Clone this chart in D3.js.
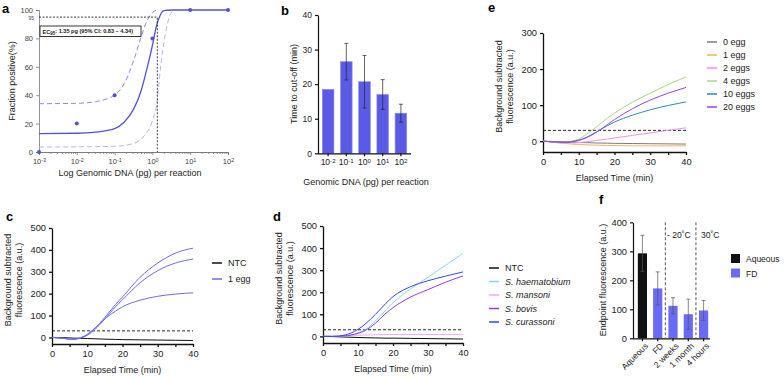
<!DOCTYPE html>
<html><head><meta charset="utf-8">
<script src="https://cdn.jsdelivr.net/npm/d3@7"></script>
<style>
body{margin:0;background:#fff;}
svg{font-family:"Liberation Sans",Arial,sans-serif;}
</style></head><body>
<svg id="fig" width="784" height="378"></svg>
<script>
// ---- data ----
// panel a
var aDoseX = [0.001, 0.01, 0.1, 1, 10, 100];
var aDoseY = [0, 20, 40, 80, 100, 100];
var aFitX = [0.001, 0.01, 0.0316, 0.1, 0.178, 0.316, 0.501, 0.708, 1, 1.259, 1.585, 1.995, 3.16, 10, 100];
var aFitY = [13, 13.2, 14, 16.5, 21, 30, 43, 58, 75, 88, 96, 99.5, 100, 100, 100];
var aUpX = [0.001, 0.01, 0.0316, 0.1, 0.178, 0.316, 0.501, 0.708, 1, 1.26];
var aUpY = [34, 34.3, 35.5, 40, 48, 64, 81, 92, 98, 100];
var aLowX = [0.001, 0.1, 0.316, 0.631, 1, 1.35, 1.62, 2.2, 2.8, 3.6];
var aLowY = [3.5, 4, 6, 12, 22, 37, 58, 83, 95, 100];
var aEC = 1.35, aECLevel = 95;

// panel b
var bDose = ["-2", "-1", "0", "1", "2"];
var bMean = [18.5, 26.5, 20.7, 17, 11.6];
var bErr = [0, 5.3, 7.6, 4.3, 2.6];

// panels c, d, e share one time grid (min)
var tGrid = [0, 3, 6, 8, 10, 12, 15, 18, 20, 25, 30, 35, 40];
var cNames = ["NTC", "1 egg", "1 egg", "1 egg"];
var cVals = [
  [0, -1, -3, -4, -5, -6, -8, -9, -10, -11, -12, -13, -14],
  [0, -4, -8, -3, 12, 38, 92, 150, 185, 275, 340, 385, 408],
  [0, -4, -8, -3, 10, 34, 84, 140, 172, 250, 305, 340, 358],
  [0, -4, -8, -2, 14, 40, 85, 120, 140, 170, 188, 198, 204]
];
var dNames = ["NTC", "S. haematobium", "S. mansoni", "S. bovis", "S. curassoni"];
var dVals = [
  [0, -1, -3, -4, -5, -6, -7, -8, -8, -9, -10, -11, -12],
  [0, 0, 2, 6, 15, 30, 70, 120, 152, 215, 268, 322, 376],
  [0, 1, 3, 4, 5, 6, 7, 8, 8, 8, 8, 8, 8],
  [0, 0, 2, 6, 14, 26, 60, 105, 130, 178, 212, 245, 274],
  [0, 0, 5, 15, 32, 55, 100, 150, 180, 225, 252, 273, 292]
];
var eNames = ["0 egg", "1 egg", "2 eggs", "4 eggs", "10 eggs", "20 eggs"];
var eVals = [
  [0, -1, -2, -3, -3.5, -4, -5, -5.5, -6, -6.5, -7, -7.5, -8],
  [0, -3, -6, -8, -9, -10, -11, -12, -12, -13, -13, -13, -13],
  [0, -3, -5, -5, -4, -2, 2, 6, 9, 16, 23, 30, 37],
  [0, -2, -3, 0, 6, 18, 40, 64, 78, 108, 133, 157, 178],
  [0, -2, -3, -1, 3, 10, 26, 43, 53, 72, 87, 99, 109],
  [0, -2, -3, -2, 2, 9, 25, 46, 60, 90, 114, 133, 149]
];
var cutoff = 30;

// panel f
var fConds = ["Aqueous", "FD", "2 weeks", "1 month", "4 hours"];
var fGroup = ["Aqueous", "FD", "FD", "FD", "FD"];
var fMean = [293, 172, 112, 83, 96];
var fErr = [62, 57, 28, 52, 34];

// ---- drawing ----
var svg = d3.select("#fig");

function panelLabel(t, x, y) {
  svg.append("text").attr("x", x).attr("y", y).attr("font-size", 13)
    .attr("font-weight", "bold").text(t);
}
function sup(sel, base, exp) {
  sel.text(null);
  sel.append("tspan").text(base);
  sel.append("tspan").attr("dy", "-0.45em").attr("font-size", "0.72em").text(exp);
}
function styleAxis(g, w, col, fs) {
  g.selectAll("path.domain").attr("stroke", col).attr("stroke-width", w);
  g.selectAll(".tick line").attr("stroke", col).attr("stroke-width", w);
  g.selectAll(".tick text").attr("fill", "#222").attr("font-size", fs || 9.3)
    .attr("font-family", "Liberation Sans, Arial, sans-serif");
}
function yTitle(lines, x, y) {
  var t = svg.append("text").attr("transform", "translate(" + x + "," + y + ") rotate(-90)")
    .attr("text-anchor", "middle").attr("font-size", 9).attr("fill", "#222");
  lines.forEach(function (l, i) {
    t.append("tspan").attr("x", 0).attr("dy", i ? "1.2em" : 0).text(l);
  });
}
function xTitle(s, x, y) {
  svg.append("text").attr("x", x).attr("y", y).attr("text-anchor", "middle")
    .attr("font-size", 9).attr("fill", "#222").text(s);
}

// ===== panel a =====
(function () {
  var x = d3.scaleLog().domain([0.001, 100]).range([39, 228]);
  var y = d3.scaleLinear().domain([0, 100]).range([152, 10]);
  var g = svg.append("g");
  var minor = [];
  for (var e = -3; e < 2; e++) for (var m = 2; m < 10; m++) minor.push(m * Math.pow(10, e));
  g.append("g").attr("transform", "translate(0,152)")
    .call(d3.axisBottom(x).tickValues(minor).tickSize(2).tickFormat(""))
    .call(function (s) { styleAxis(s, 0.8, "#777"); });
  var xa = g.append("g").attr("transform", "translate(0,152)")
    .call(d3.axisBottom(x).tickValues([0.001, 0.01, 0.1, 1, 10, 100]).tickSize(3).tickPadding(4))
    .call(function (s) { styleAxis(s, 0.8, "#777", 7.5); });
  xa.selectAll(".tick text").each(function (d) {
    sup(d3.select(this), "10", String(Math.round(Math.log10(d))));
  }).attr("fill", "#444");
  var ya = g.append("g").attr("transform", "translate(39,0)")
    .call(d3.axisLeft(y).tickValues([0, 20, 40, 60, 80, 100]).tickSize(3))
    .call(function (s) { styleAxis(s, 0.8, "#777", 7.5); });
  ya.selectAll(".tick text").attr("fill", "#444");
  g.append("text").attr("x", 34).attr("y", y(aECLevel) + 2.6).attr("text-anchor", "end")
    .attr("font-size", 5).attr("fill", "#444").text(aECLevel);

  var line = d3.line().x(function (d) { return x(d[0]); }).y(function (d) { return y(d[1]); })
    .curve(d3.curveMonotoneX);
  g.append("path").attr("d", line(d3.zip(aLowX, aLowY))).attr("fill", "none")
    .attr("stroke", "#b7b7f2").attr("stroke-width", 1).attr("stroke-dasharray", "5,3");
  g.append("path").attr("d", line(d3.zip(aUpX, aUpY))).attr("fill", "none")
    .attr("stroke", "#8b8be6").attr("stroke-width", 1).attr("stroke-dasharray", "5,3");
  g.append("path").attr("d", line(d3.zip(aFitX, aFitY))).attr("fill", "none")
    .attr("stroke", "#5252dc").attr("stroke-width", 1.3);
  g.append("path").attr("d", "M" + x(0.001) + "," + y(aECLevel) + "H" + x(aEC) + "V" + y(0))
    .attr("fill", "none").attr("stroke", "#111").attr("stroke-width", 0.8)
    .attr("stroke-dasharray", "2,1.5");
  g.selectAll("circle").data(d3.zip(aDoseX, aDoseY)).enter().append("circle")
    .attr("cx", function (d) { return x(d[0]); }).attr("cy", function (d) { return y(d[1]); })
    .attr("r", 2).attr("fill", "#4f4fe0");
  g.append("rect").attr("x", 40).attr("y", 26).attr("width", 101).attr("height", 10.5)
    .attr("fill", "#fff").attr("stroke", "#222").attr("stroke-width", 0.9);
  var t = g.append("text").attr("x", 42.5).attr("y", 33.5).attr("font-size", 5.6)
    .attr("font-weight", "bold").attr("fill", "#222");
  t.append("tspan").text("EC");
  t.append("tspan").attr("dy", "0.35em").attr("font-size", "0.8em").text("95");
  t.append("tspan").attr("dy", "-0.35em").text(": " + aEC + " pg (95% CI: 0.83 \u2013 4.34)");
  yTitle(["Fraction positive(%)"], 15, 81);
  xTitle("Log Genomic DNA (pg) per reaction", 130, 176);
  panelLabel("a", 2, 13);
})();

// ===== panel b =====
(function () {
  var x = d3.scaleBand().domain(bDose).range([319, 410]).paddingInner(0.36).paddingOuter(0.18);
  var y = d3.scaleLinear().domain([0, 40]).range([153.3, 15]);
  var g = svg.append("g");
  g.selectAll("rect").data(bMean).enter().append("rect")
    .attr("x", function (d, i) { return x(bDose[i]); }).attr("width", x.bandwidth())
    .attr("y", function (d) { return y(d); }).attr("height", function (d) { return y(0) - y(d); })
    .attr("fill", "#5a5ae6").attr("stroke", "#8e8ef0").attr("stroke-width", 0.6);
  bMean.forEach(function (m, i) {
    if (!bErr[i]) return;
    var cx = x(bDose[i]) + x.bandwidth() / 2;
    g.append("path").attr("d", "M" + cx + "," + y(m - bErr[i]) + "V" + y(m + bErr[i]) +
      "M" + (cx - 2) + "," + y(m + bErr[i]) + "h4M" + (cx - 2) + "," + y(m - bErr[i]) + "h4")
      .attr("stroke", "#222").attr("stroke-width", 0.7).attr("fill", "none");
  });
  var xa = g.append("g").attr("transform", "translate(0,153.3)")
    .call(d3.axisBottom(x).tickSize(3).tickSizeOuter(0))
    .call(function (s) { styleAxis(s, 1.2, "#111", 8.5); });
  xa.select("path.domain").attr("d", "M318,0.5H411");
  xa.selectAll(".tick text").each(function (d) { sup(d3.select(this), "10", d); });
  g.append("g").attr("transform", "translate(318,0)")
    .call(d3.axisLeft(y).ticks(4).tickSize(3).tickSizeOuter(0))
    .call(function (s) { styleAxis(s, 1.2, "#111", 8.5); });
  yTitle(["Time to cut-off (min)"], 297, 84);
  xTitle("Genomic DNA (pg) per reaction", 366, 185);
  panelLabel("b", 281, 15);
})();

// ===== line panels c, d, e =====
function linePanel(o) {
  var x = d3.scaleLinear().domain([0, 40]).range([o.x0, o.x1]);
  var y = d3.scaleLinear().domain([-30, o.ymax]).range([o.yb, o.yt]);
  var g = svg.append("g");
  g.append("g").attr("transform", "translate(0," + o.yb + ")")
    .call(d3.axisBottom(x).tickValues(d3.range(0, 41, 5)).tickSize(3).tickSizeOuter(0)
      .tickFormat(function (d) { return d % 10 ? "" : d; }))
    .call(function (s) { styleAxis(s, 1.3, "#111"); });
  g.append("g").attr("transform", "translate(" + o.x0 + ",0)")
    .call(d3.axisLeft(y).tickValues(d3.range(0, o.ymax + 1, 100)).tickSize(3).tickSizeOuter(0))
    .call(function (s) { styleAxis(s, 1.3, "#111"); });
  g.append("line").attr("x1", o.x0).attr("x2", o.x1).attr("y1", y(cutoff)).attr("y2", y(cutoff))
    .attr("stroke", "#111").attr("stroke-width", 0.9).attr("stroke-dasharray", "3,2");
  var line = d3.line().x(function (d, i) { return x(tGrid[i]); }).y(function (d) { return y(d); })
    .curve(d3.curveMonotoneX);
  o.vals.forEach(function (v, i) {
    g.append("path").attr("d", line(v)).attr("fill", "none")
      .attr("stroke", o.colors[i]).attr("stroke-width", o.lw || 1);
  });
  var seen = {};
  var items = [];
  o.names.forEach(function (n, i) { if (!seen[n]) { seen[n] = 1; items.push([n, o.colors[i]]); } });
  items.forEach(function (it, i) {
    var ly = o.ly + i * o.lstep;
    g.append("line").attr("x1", o.lx).attr("x2", o.lx + 10).attr("y1", ly).attr("y2", ly)
      .attr("stroke", it[1]).attr("stroke-width", 1.5);
    g.append("text").attr("x", o.lx + 16).attr("y", ly + 3.2).attr("font-size", 9)
      .attr("fill", "#222").attr("font-style", o.italic && it[0].indexOf("S.") === 0 ? "italic" : null)
      .text(it[0]);
  });
  yTitle(["Background subtracted", "fluorescence (a.u.)"], o.x0 - 41, (o.yb + o.yt) / 2 - 6);
  xTitle("Elapsed Time (min)", (o.x0 + o.x1) / 2, o.yb + 29);
}

linePanel({ x0: 52, x1: 193, yb: 344, yt: 228, ymax: 500, vals: cVals, names: cNames,
  colors: ["#111", "#6b6bef", "#6b6bef", "#6b6bef"], lx: 212, ly: 263, lstep: 16 });
panelLabel("c", 6, 221);

linePanel({ x0: 323, x1: 463, yb: 343, yt: 226, ymax: 500, vals: dVals, names: dNames, italic: true,
  colors: ["#111", "#86d8f2", "#f4a8ee", "#9438ec", "#3348ec"], lx: 489, ly: 268, lstep: 13.5 });
panelLabel("d", 273, 221);

linePanel({ x0: 543, x1: 686, yb: 152, yt: 33, ymax: 300, vals: eVals, names: eNames,
  colors: ["#7c7c7c", "#f6b25c", "#ec92ec", "#a8da78", "#2f88bd", "#9b42de"], lx: 707, ly: 42, lstep: 13 });
panelLabel("e", 488, 12);

// ===== panel f =====
(function () {
  var x = d3.scaleBand().domain(fConds).range([634, 712]).paddingInner(0.4).paddingOuter(0.25);
  var y = d3.scaleLinear().domain([0, 400]).range([338.3, 222.3]);
  var col = d3.scaleOrdinal().domain(["Aqueous", "FD"]).range(["#111", "#6a6af4"]);
  var g = svg.append("g");
  g.selectAll("rect").data(fMean).enter().append("rect")
    .attr("x", function (d, i) { return x(fConds[i]); }).attr("width", x.bandwidth())
    .attr("y", function (d) { return y(d); }).attr("height", function (d) { return y(0) - y(d); })
    .attr("fill", function (d, i) { return col(fGroup[i]); });
  fMean.forEach(function (m, i) {
    var cx = x(fConds[i]) + x.bandwidth() / 2;
    g.append("path").attr("d", "M" + cx + "," + y(m - fErr[i]) + "V" + y(m + fErr[i]) +
      "M" + (cx - 2) + "," + y(m + fErr[i]) + "h4M" + (cx - 2) + "," + y(m - fErr[i]) + "h4")
      .attr("stroke", "#555").attr("stroke-width", 0.7).attr("fill", "none");
  });
  [1.5, 3.5].forEach(function (k) {
    var xx = x(fConds[Math.floor(k)]) + x.bandwidth() + x.step() * x.paddingInner() / 2;
    g.append("line").attr("x1", xx).attr("x2", xx).attr("y1", y(400)).attr("y2", y(0))
      .attr("stroke", "#555").attr("stroke-width", 1).attr("stroke-dasharray", "3,2");
  });
  g.append("text").attr("x", 667).attr("y", 238).attr("font-size", 8.5).attr("fill", "#222").text("- 20\u02daC");
  g.append("text").attr("x", 701).attr("y", 238).attr("font-size", 8.5).attr("fill", "#222").text("30\u02daC");
  var xa = g.append("g").attr("transform", "translate(0,338.3)")
    .call(d3.axisBottom(x).tickSize(3).tickSizeOuter(0))
    .call(function (s) { styleAxis(s, 1.2, "#111", 8.5); });
  xa.select("path.domain").attr("d", "M633,0.5H710");
  xa.selectAll(".tick text").attr("text-anchor", "end").attr("dy", 0)
    .attr("transform", "translate(2,4) rotate(-45)");
  g.append("g").attr("transform", "translate(633,0)")
    .call(d3.axisLeft(y).ticks(4).tickSize(3).tickSizeOuter(0))
    .call(function (s) { styleAxis(s, 1.2, "#111"); });
  yTitle(["Endpoint fluorescence (a.u.)"], 606, 280);
  ["Aqueous", "FD"].forEach(function (n, i) {
    g.append("rect").attr("x", 731).attr("y", 254 + i * 14.5).attr("width", 9).attr("height", 9)
      .attr("fill", col(n));
    g.append("text").attr("x", 746).attr("y", 262 + i * 14.5).attr("font-size", 8.5)
      .attr("fill", "#222").text(n);
  });
  panelLabel("f", 599, 204);
})();
</script></body></html>
